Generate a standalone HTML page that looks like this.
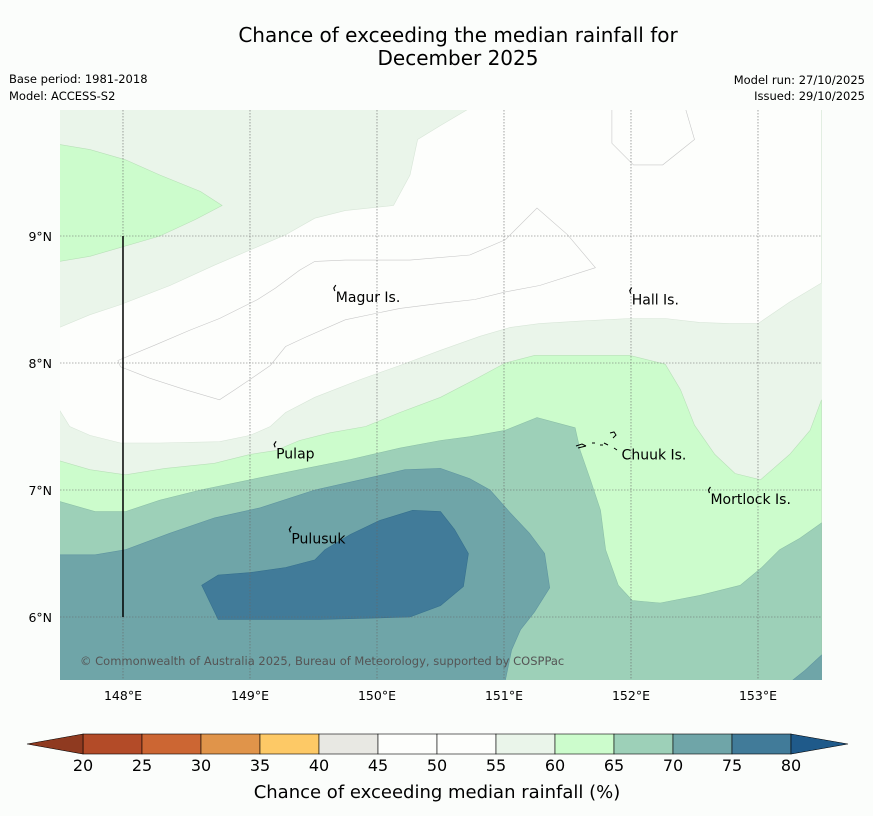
<!DOCTYPE html>
<html><head><meta charset="utf-8"><style>
html,body{margin:0;padding:0;background:#fbfdfb;}
svg{display:block;font-family:"DejaVu Sans","Liberation Sans",sans-serif;}
</style></head><body>
<svg id="chart" width="873" height="816" viewBox="0 0 873 816" xmlns="http://www.w3.org/2000/svg">
<rect width="873" height="816" fill="#fbfdfb"/>
<text x="458" y="42" font-size="20" text-anchor="middle" fill="#000">Chance of exceeding the median rainfall for</text>
<text x="458" y="65" font-size="20" text-anchor="middle" fill="#000">December 2025</text>
<text x="9" y="83" font-size="11.5" fill="#000">Base period: 1981-2018</text>
<text x="9" y="100" font-size="11.5" fill="#000">Model: ACCESS-S2</text>
<text x="865" y="84" font-size="11.5" text-anchor="end" fill="#000">Model run: 27/10/2025</text>
<text x="865" y="100" font-size="11.5" text-anchor="end" fill="#000">Issued: 29/10/2025</text>
<defs><clipPath id="mapclip"><rect x="60" y="110" width="762" height="570"/></clipPath></defs>
<g id="map" clip-path="url(#mapclip)"></g>
<g id="overlay"></g>
<g id="cbar"></g>
<text x="437" y="798" font-size="18" text-anchor="middle" fill="#000">Chance of exceeding median rainfall (%)</text>
</svg>
<script>
const NS="http://www.w3.org/2000/svg";
const lonTicks=[148,149,150,151,152,153];
const latTicks=[6,7,8,9];
const cbLevels=[20,25,30,35,40,45,50,55,60,65,70,75,80];
const cbColors=["#b34b28","#cc6633","#e0944a","#fdc966","#e8e8e3","#fdfefc","#fdfefc","#eaf5ea","#ccfccc","#9dd0b8","#6fa5a8","#417b99"];
const zone55=[[150.72,10.0],[150.50,9.87],[150.32,9.76],[150.26,9.48],[150.13,9.24],[149.75,9.20],[149.51,9.14],[149.28,9.01],[149.00,8.89],[148.72,8.77],[148.37,8.61],[147.98,8.46],[147.74,8.38],[147.50,8.28],[147.50,7.63],[147.58,7.50],[147.74,7.43],[147.98,7.37],[148.29,7.37],[148.76,7.38],[149.00,7.43],[149.16,7.50],[149.28,7.61],[149.51,7.73],[149.87,7.87],[150.18,7.98],[150.50,8.10],[150.81,8.21],[151.05,8.28],[151.28,8.31],[151.60,8.33],[151.99,8.35],[152.27,8.35],[152.54,8.32],[152.78,8.31],[153.00,8.31],[153.25,8.48],[153.50,8.63],[153.50,10.0]];
const zone50a=[[151.85,10.0],[151.85,9.73],[152.02,9.56],[152.25,9.56],[152.50,9.76],[152.43,10.0]];
const zone50b=[[147.96,8.02],[148.25,8.14],[148.53,8.26],[148.76,8.35],[149.06,8.50],[149.20,8.59],[149.39,8.73],[149.51,8.80],[149.75,8.81],[150.26,8.81],[150.73,8.85],[151.01,8.97],[151.26,9.22],[151.50,9.01],[151.72,8.75],[151.28,8.61],[151.01,8.56],[150.77,8.50],[150.50,8.47],[150.18,8.43],[149.75,8.34],[149.43,8.20],[149.28,8.13],[149.16,7.98],[149.00,7.87],[148.88,7.79],[148.76,7.71],[148.49,7.79],[148.21,7.88],[147.98,7.97]];
const zone60a=[[147.50,9.72],[147.74,9.68],[148.02,9.60],[148.29,9.48],[148.61,9.35],[148.78,9.24],[148.57,9.13],[148.29,9.00],[147.98,8.91],[147.74,8.84],[147.50,8.80]];
const zone60b=[[147.50,7.23],[147.74,7.16],[148.02,7.12],[148.33,7.17],[148.72,7.21],[149.00,7.28],[149.20,7.31],[149.39,7.39],[149.63,7.45],[149.91,7.50],[150.18,7.61],[150.50,7.73],[150.77,7.87],[151.01,8.00],[151.24,8.06],[151.99,8.06],[152.27,7.99],[152.39,7.79],[152.50,7.51],[152.66,7.28],[152.82,7.13],[153.02,7.08],[153.25,7.28],[153.41,7.47],[153.50,7.71],[153.50,5.5],[147.50,5.5]];
const zone65=[[147.50,6.91],[147.78,6.83],[148.02,6.83],[148.29,6.92],[148.61,7.00],[149.00,7.08],[149.39,7.16],[149.79,7.24],[150.18,7.33],[150.50,7.39],[150.73,7.42],[151.01,7.47],[151.26,7.57],[151.56,7.49],[151.60,7.31],[151.68,7.08],[151.76,6.84],[151.80,6.53],[151.90,6.25],[152.01,6.13],[152.23,6.11],[152.54,6.17],[152.86,6.25],[153.03,6.39],[153.17,6.53],[153.33,6.62],[153.50,6.74],[153.50,5.5],[147.50,5.5]];
const zone70a=[[147.50,6.49],[147.78,6.49],[148.02,6.53],[148.37,6.66],[148.72,6.78],[149.08,6.86],[149.51,7.00],[149.87,7.08],[150.22,7.16],[150.50,7.17],[150.73,7.09],[150.89,7.00],[151.05,6.82],[151.20,6.66],[151.32,6.50],[151.36,6.23],[151.24,6.04],[151.13,5.90],[151.06,5.74],[151.01,5.50],[147.50,5.50]];
const zone70b=[[153.50,5.70],[153.37,5.58],[153.27,5.50],[153.50,5.50]];
const zone75=[[148.62,6.25],[148.75,6.33],[149.00,6.35],[149.28,6.39],[149.51,6.45],[149.59,6.53],[149.79,6.65],[150.02,6.76],[150.28,6.84],[150.50,6.83],[150.61,6.69],[150.72,6.50],[150.68,6.24],[150.50,6.09],[150.26,6.00],[149.55,5.98],[148.75,5.98]];
const islandNames=["Magur Is.","Hall Is.","Pulap","Chuuk Is.","Mortlock Is.","Pulusuk"];
const islandLon=[149.66,151.99,149.19,151.91,152.61,149.31];
const islandLat=[8.59,8.57,7.36,7.35,7.00,6.69];

const x0=60,x1=822,y0=110,y1=680,lonMin=147.504,lonMax=153.504,latMin=5.504,latMax=9.992;
const X=lon=>x0+(lon-lonMin)/(lonMax-lonMin)*(x1-x0);
const Y=lat=>y1-(lat-latMin)/(latMax-latMin)*(y1-y0);
const map=document.getElementById('map'),ov=document.getElementById('overlay'),cb=document.getElementById('cbar');
function mk(tag,attrs,parent){const e=document.createElementNS(NS,tag);for(const k in attrs)e.setAttribute(k,attrs[k]);parent.appendChild(e);return e;}
function poly(pts,fill,stroke,name){
  const e=mk('polygon',{points:pts.map(p=>X(p[0]).toFixed(1)+','+Y(p[1]).toFixed(1)).join(' '),fill:fill,stroke:stroke,'stroke-width':0.6},map);
  
  
}
const base=mk('rect',{x:x0,y:y0,width:x1-x0,height:y1-y0,fill:cbColors[7]},map);


poly(zone55,cbColors[6],"#d8e6d8",'region-50-55');
poly(zone50a,cbColors[5],"#c8c8c8",'region-45-50-north');
poly(zone50b,cbColors[5],"#c8c8c8",'region-45-50-west');
poly(zone60a,cbColors[8],"#b8e0b8",'region-60-65-northwest');
poly(zone60b,cbColors[8],"#b8e0b8",'region-60-65-band');
poly(zone65,cbColors[9],"#8cc0a8",'region-65-70');
poly(zone70a,cbColors[10],"#5f95a0",'region-70-75');
poly(zone70b,cbColors[10],"#5f95a0",'region-70-75-southeast');
poly(zone75,cbColors[11],"#36708e",'region-75-80');
lonTicks.forEach(l=>{
  const g=mk('line',{x1:X(l),x2:X(l),y1:y0,y2:y1,stroke:"#666",'stroke-width':0.6,'stroke-dasharray':'1.5,1.5'},ov);
  
  
  const t=mk('text',{x:X(l),y:700,'font-size':12.5,'text-anchor':'middle',fill:'#000'},ov);t.textContent=l+'°E';
  
  
});
latTicks.forEach(l=>{
  const g=mk('line',{x1:x0,x2:x1,y1:Y(l),y2:Y(l),stroke:"#666",'stroke-width':0.6,'stroke-dasharray':'1.5,1.5'},ov);
  
  
  const t=mk('text',{x:52,y:Y(l)+5,'font-size':12.5,'text-anchor':'end',fill:'#000'},ov);t.textContent=l+'°N';
  
  
});
const vl=mk('line',{x1:X(148),x2:X(148),y1:Y(9),y2:Y(6),stroke:'#000','stroke-width':1.5},ov);


islandNames.forEach((n,i)=>{
  const mx=X(islandLon[i]),my=Y(islandLat[i]);
  if(i!==3){
    const m=mk('path',{d:`M${mx+1},${my+3} L${mx},${my} L${mx+2},${my-3}`,stroke:'#000','stroke-width':1.2,fill:'none'},ov);
    
    
  }
  const t=mk('text',{x:mx+2,y:my+14,'font-size':14,fill:'#000'},ov);t.textContent=n;
  
  
});
const ch=mk('path',{d:'M576,446 l6,-2 l4,2 M592,443 l3,0 M600,445 l3,0 M604,443 l4,2 M610,433 l4,-1 l2,3 l-3,3 M614,448 l3,2 M578,448 l8,-2',stroke:'#000','stroke-width':1,fill:'none'},ov);


const cp=mk('text',{x:80,y:665,'font-size':11.5,fill:'#555'},ov);cp.textContent='© Commonwealth of Australia 2025, Bureau of Meteorology, supported by COSPPac';


const cbX0=83,cbX1=791,cbY=734,cbH=20;
const CX=v=>cbX0+(v-cbLevels[0])/(cbLevels[cbLevels.length-1]-cbLevels[0])*(cbX1-cbX0);
cbColors.forEach((c,i)=>{
  const r=mk('rect',{x:CX(cbLevels[i]),y:cbY,width:CX(cbLevels[i+1])-CX(cbLevels[i]),height:cbH,fill:c,stroke:'#000','stroke-width':0.6},cb);
  
  
});
const el=mk('polygon',{points:`${cbX0},${cbY} 27,${cbY+cbH/2} ${cbX0},${cbY+cbH}`,fill:'#8f3a20',stroke:'#000','stroke-width':0.6},cb);


const er=mk('polygon',{points:`${cbX1},${cbY} 848,${cbY+cbH/2} ${cbX1},${cbY+cbH}`,fill:'#1f5a8a',stroke:'#000','stroke-width':0.6},cb);


cbLevels.forEach(v=>{
  const t=mk('text',{x:CX(v),y:771,'font-size':16,'text-anchor':'middle',fill:'#000'},cb);t.textContent=v;
  
  
});
</script>
</body></html>
